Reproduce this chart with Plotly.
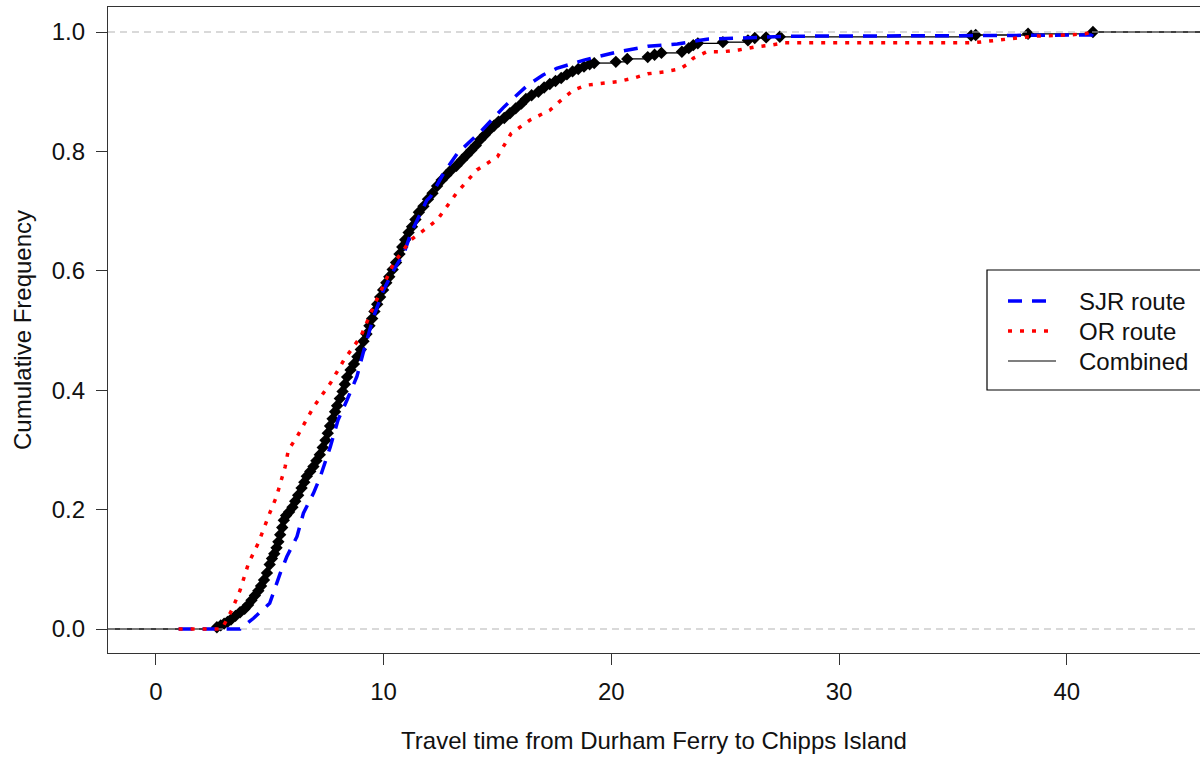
import plotly.graph_objects as go

# ---------------- data ----------------
# SJR route cumulative frequency curve
sjr_x = [1.0, 3.7, 4.29, 5.0, 5.46, 5.75, 6.2, 6.48, 6.93, 7.22, 7.66, 8.0, 8.4, 8.83, 9.1,
         9.56, 10.0, 10.5, 10.9, 11.2, 11.9, 12.06, 12.63, 13.25, 14.26, 15.3, 16.3, 17.0,
         17.6, 18.8, 20.3, 21.6, 22.9, 24.2, 25.7, 27.0, 28.0, 36.0, 41.1, 41.15]
sjr_y = [0.0, 0.0, 0.018, 0.043, 0.093, 0.121, 0.155, 0.194, 0.228, 0.255, 0.305, 0.35, 0.384,
         0.423, 0.462, 0.523, 0.568, 0.605, 0.63, 0.663, 0.718, 0.724, 0.763, 0.797, 0.833,
         0.875, 0.91, 0.928, 0.939, 0.953, 0.967, 0.976, 0.98, 0.988, 0.99, 0.992, 0.993,
         0.994, 0.995, 1.0]

# OR route cumulative frequency curve
or_x = [1.0, 2.9, 3.34, 3.7, 4.07, 4.5, 5.0, 5.3, 5.68, 5.82, 6.2, 6.93, 7.67, 8.25, 9.0, 9.56,
        10.45, 11.2, 11.77, 12.35, 13.2, 14.1, 15.0, 15.6, 16.45, 17.3, 17.8, 18.35, 18.9, 19.6,
        20.3, 21.0, 21.6, 22.3, 23.0, 23.3, 23.6, 24.2, 24.9, 25.6, 26.3, 27.0, 27.6, 35.9,
        36.6, 37.3, 38.0, 38.6, 40.05, 40.8, 41.1]
or_y = [0.0, 0.0, 0.032, 0.065, 0.11, 0.144, 0.194, 0.222, 0.272, 0.3, 0.322, 0.372, 0.412,
        0.45, 0.49, 0.54, 0.613, 0.652, 0.668, 0.685, 0.73, 0.769, 0.791, 0.83, 0.853, 0.869,
        0.886, 0.903, 0.911, 0.914, 0.917, 0.923, 0.93, 0.933, 0.938, 0.945, 0.956, 0.967,
        0.967, 0.97, 0.975, 0.978, 0.982, 0.982, 0.985, 0.988, 0.99, 0.993, 0.995, 0.997, 1.0]

# Combined: observed travel times and their cumulative frequency
comb_x = [2.68, 2.85, 3.0, 3.15, 3.3, 3.5, 3.7, 3.9, 4.05, 4.2, 4.35, 4.5, 4.62, 4.75, 4.88,
          5.0, 5.1, 5.2, 5.3, 5.38, 5.46, 5.55, 5.62, 5.72, 5.85, 6.0, 6.12, 6.25, 6.4, 6.52,
          6.63, 6.78, 6.92, 7.05, 7.2, 7.33, 7.45, 7.55, 7.65, 7.76, 7.87, 7.96, 8.08, 8.2,
          8.3, 8.4, 8.55, 8.7, 8.85, 9.0, 9.12, 9.25, 9.38, 9.5, 9.6, 9.72, 9.85, 9.98, 10.12,
          10.25, 10.4, 10.55, 10.7, 10.82, 10.95, 11.1, 11.25, 11.4, 11.55, 11.75, 11.95,
          12.15, 12.35, 12.55, 12.75, 12.95, 13.2, 13.45, 13.65, 13.85, 14.05, 14.25, 14.45,
          14.65, 14.85, 15.05, 15.3, 15.55, 15.8, 16.05, 16.25, 16.5, 16.8, 17.05, 17.3,
          17.55, 17.8, 18.05, 18.3, 18.55, 18.8, 19.05, 19.25, 20.2, 20.7, 21.6, 21.9, 22.2,
          23.1, 23.4, 23.6, 23.8, 24.9, 26.0, 26.3, 26.8, 27.4, 35.8, 36.0, 38.3, 41.15]
comb_y = [0.003, 0.006, 0.009, 0.012, 0.016, 0.022, 0.028, 0.034, 0.04, 0.048, 0.056, 0.064,
          0.072, 0.082, 0.094, 0.108, 0.118, 0.126, 0.136, 0.146, 0.158, 0.17, 0.182, 0.19,
          0.196, 0.204, 0.214, 0.224, 0.236, 0.246, 0.256, 0.264, 0.272, 0.282, 0.292, 0.304,
          0.316, 0.328, 0.34, 0.352, 0.364, 0.374, 0.386, 0.398, 0.41, 0.422, 0.434, 0.444,
          0.456, 0.468, 0.482, 0.494, 0.508, 0.52, 0.532, 0.544, 0.556, 0.568, 0.58, 0.59,
          0.602, 0.614, 0.628, 0.64, 0.652, 0.664, 0.674, 0.686, 0.698, 0.708, 0.72, 0.73,
          0.742, 0.752, 0.76, 0.768, 0.776, 0.786, 0.794, 0.802, 0.81, 0.82, 0.828, 0.836,
          0.843, 0.85, 0.856, 0.864, 0.872, 0.88, 0.888, 0.894, 0.9, 0.907, 0.913, 0.918,
          0.923, 0.929, 0.934, 0.938, 0.942, 0.946, 0.948, 0.95, 0.955, 0.958, 0.962, 0.965,
          0.967, 0.973, 0.978, 0.981, 0.983, 0.986, 0.99, 0.991, 0.992, 0.994, 0.995, 0.997,
          1.0]

x_ticks = [0, 10, 20, 30, 40]
y_ticks = [0.0, 0.2, 0.4, 0.6, 0.8, 1.0]
y_tick_labels = ["0.0", "0.2", "0.4", "0.6", "0.8", "1.0"]
legend_names = ["SJR route", "OR route", "Combined"]

# ---------------- layout geometry ----------------
X_RANGE = [-2.1, 45.85]
Y_RANGE = [-0.0402, 1.0419]
ML, MT, MB = 108, 7, 106
W, H = 1200, 759
FONT = "Liberation Sans, Arial, sans-serif"
TXT = "#111111"

fig = go.Figure()

# Combined ECDF: horizontal step segments (no verticals), like R's plot.ecdf
seg_x, seg_y = [X_RANGE[0], comb_x[0], None], [0.0, 0.0, None]
for i in range(len(comb_x)):
    x_next = comb_x[i + 1] if i + 1 < len(comb_x) else X_RANGE[1]
    seg_x += [comb_x[i], x_next, None]
    seg_y += [comb_y[i], comb_y[i], None]
fig.add_trace(go.Scatter(x=seg_x, y=seg_y, mode="lines",
                         line=dict(color="black", width=1.3),
                         showlegend=False, hoverinfo="skip"))
fig.add_trace(go.Scatter(x=comb_x, y=comb_y, mode="markers", name="Combined",
                         marker=dict(symbol="diamond", size=9.5, color="black",
                                     line=dict(width=0)),
                         showlegend=False))

# reference lines at 0 and 1
for yv in [0.0, 1.0]:
    fig.add_trace(go.Scatter(x=X_RANGE, y=[yv, yv], mode="lines",
                             line=dict(color="#b3b3b3", width=1.2, dash="7px,5px"),
                             showlegend=False, hoverinfo="skip"))

fig.add_trace(go.Scatter(x=sjr_x, y=sjr_y, mode="lines", name="SJR route",
                         line=dict(color="#0000ff", width=3.5, dash="14px,10px"),
                         showlegend=False))
fig.add_trace(go.Scatter(x=or_x, y=or_y, mode="lines", name="OR route",
                         line=dict(color="#ff0000", width=3.5, dash="4px,8px"),
                         showlegend=False))

# ---------------- manual legend (box cropped at right edge like the reference) ----------------
pw, ph = W - ML, H - MT - MB
def px2paper_x(px):
    return (px - ML) / pw
def px2paper_y(py):
    return (H - MB - py) / ph

shapes = [dict(type="rect", xref="paper", yref="paper",
               x0=px2paper_x(987), x1=px2paper_x(1260),
               y0=px2paper_y(390), y1=px2paper_y(270),
               line=dict(color="black", width=1.2), fillcolor="white", layer="above")]
leg_styles = [dict(color="#0000ff", width=3.5, dash="14px,10px"),
              dict(color="#ff0000", width=3.5, dash="4px,8px"),
              dict(color="black", width=1.2)]
rows = [301, 331, 361]
annotations = []
for name, st, ry in zip(legend_names, leg_styles, rows):
    shapes.append(dict(type="line", xref="paper", yref="paper",
                       x0=px2paper_x(1008), x1=px2paper_x(1056),
                       y0=px2paper_y(ry), y1=px2paper_y(ry), line=st, layer="above"))
    annotations.append(dict(text=name, xref="paper", yref="paper",
                            x=px2paper_x(1077), y=px2paper_y(ry),
                            xanchor="left", yanchor="middle", showarrow=False,
                            font=dict(family=FONT, size=24, color=TXT)))

fig.update_layout(
    width=W, height=H,
    margin=dict(l=ML, r=0, t=MT, b=MB, autoexpand=False),
    paper_bgcolor="white", plot_bgcolor="white",
    font=dict(family=FONT, size=24, color=TXT),
    shapes=shapes, annotations=annotations,
    showlegend=False,
)
fig.update_xaxes(range=X_RANGE, tickvals=x_ticks, ticks="outside", ticklen=11,
                 tickcolor="#333", tickwidth=1.2, showgrid=False, zeroline=False,
                 showline=True, linecolor="#333", linewidth=1.2, mirror=True,
                 ticklabelstandoff=6,
                 title=dict(text="Travel time from Durham Ferry to Chipps Island",
                            standoff=28, font=dict(size=24)))
fig.update_yaxes(range=Y_RANGE, tickvals=y_ticks, ticktext=y_tick_labels,
                 ticks="outside", ticklen=11, tickcolor="#333", tickwidth=1.2,
                 showgrid=False, zeroline=False, showline=True, linecolor="#333",
                 linewidth=1.2, mirror=False, ticklabelstandoff=6,
                 title=dict(text="Cumulative Frequency", standoff=13, font=dict(size=24)))

fig.write_html("out.html")
